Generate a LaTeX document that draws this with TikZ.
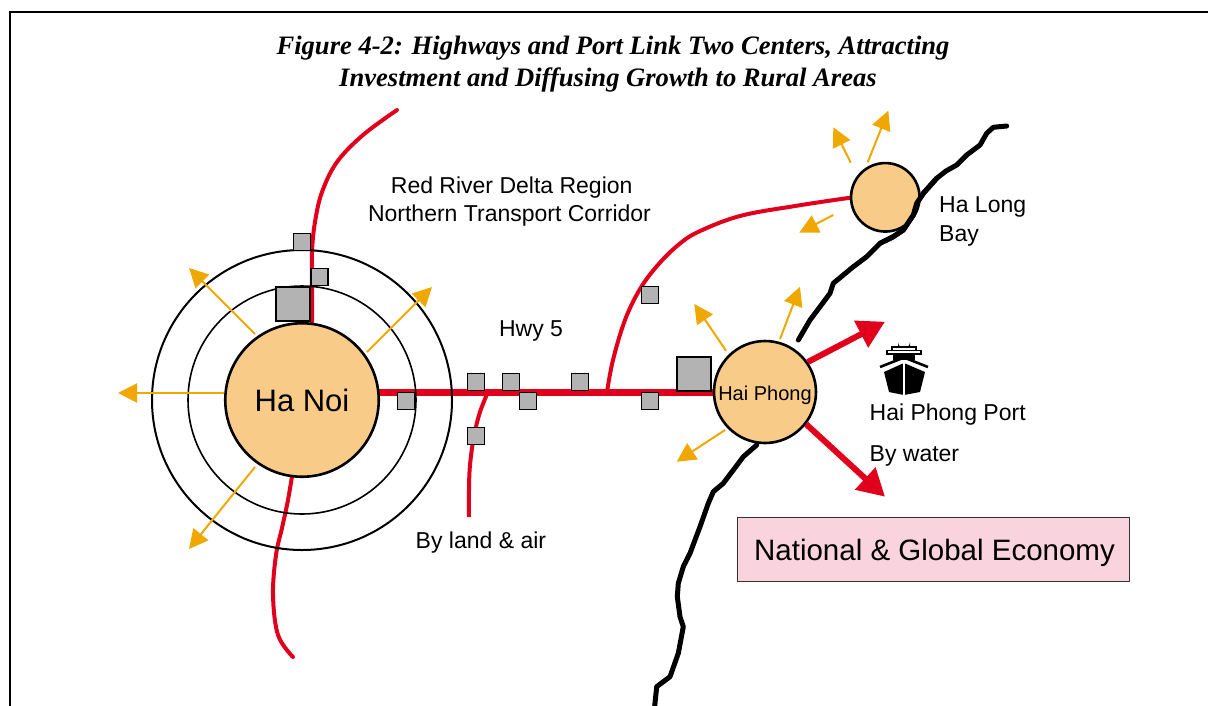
\documentclass[tikz,border=0pt]{standalone}
\usepackage{fontspec}
\setmainfont{Liberation Sans}
\newfontfamily\titlefont{Liberation Serif}
\usetikzlibrary{arrows.meta}
\definecolor{roadred}{HTML}{E0001B}
\definecolor{sunorange}{HTML}{F0A800}
\definecolor{cityfill}{HTML}{F8CC88}
\definecolor{sqgray}{HTML}{B3B3B3}
\definecolor{boxpink}{HTML}{F9D3DE}
\tikzset{
  txt/.style={inner sep=0pt, anchor=base, font=\fontsize{23}{28}\selectfont},
  txtw/.style={inner sep=0pt, anchor=base west, font=\fontsize{23}{28}\selectfont},
  ttl/.style={inner sep=0pt, anchor=base, font=\titlefont\bfseries\itshape\fontsize{26.6}{31}\selectfont},
  sq/.style={draw=black, fill=sqgray, line width=1.4pt, minimum size=16.8pt, inner sep=0pt},
  bigsq/.style={draw=black, fill=sqgray, line width=1.4pt, minimum size=34pt, inner sep=0pt},
  city/.style={circle, draw=black, fill=cityfill, line width=2.6pt, inner sep=0pt},
  road/.style={draw=roadred, line width=4pt},
  hwy/.style={draw=roadred, line width=7pt},
  oarrow/.style={draw=sunorange, line width=2pt, -{Triangle[length=19pt,width=19pt]}},
  rarrow/.style={draw=roadred, line width=6pt, -{Triangle[length=27pt,width=29pt]}},
  coast/.style={draw=black, line width=5pt, line join=round, line cap=round},
}
\begin{document}
\begin{tikzpicture}[x=1pt,y=-1pt]
\useasboundingbox (0,0) rectangle (1208,705);
\clip (0,0) rectangle (1208,705);
% frame
\draw[line width=2pt] (9.5,720) -- (9.5,12) -- (1230,12);
% title
\node[ttl] (t1) at (613,54) {Figure 4-2: Highways and Port Link Two Centers, Attracting};
\node[ttl] (t2) at (608,86) {Investment and Diffusing Growth to Rural Areas};

% named coordinates
\coordinate (hn) at (302,400);
\coordinate (hp) at (765,392);
\coordinate (hl) at (885.3,197.3);

% roads
\draw[road, line cap=round] plot[smooth, tension=0.6] coordinates {(397,110) (363,135) (337,162) (322,192) (315,222) (312,252) (312,290) (312,322)};
\draw[road, line cap=round] plot[smooth, tension=0.6] coordinates {(293,470) (288,500) (282,528) (276,555) (273,595) (278,635) (293,657)};
\draw[road] plot[smooth, tension=0.6] coordinates {(488,392) (480,412) (474,436) (470,465) (469,490) (469,517)};
\draw[road] plot[smooth, tension=0.6] coordinates {(607,392) (613,360) (625,320) (640,289) (657,266) (677,246) (698,232) (740,216) (795,206) (855,197)};
\draw[hwy] (302,392) -- (765,392);

% rings
\draw[line width=2pt] (hn) circle (150pt);
\draw[line width=1.6pt] (hn) circle (114pt);

% orange arrows Ha Noi
\coordinate (hnA1) at (255,334); \coordinate (hnT1) at (189,268);
\coordinate (hnA2) at (367,352); \coordinate (hnT2) at (432,287);
\coordinate (hnA3) at (224,393); \coordinate (hnT3) at (118,393);
\coordinate (hnA4) at (255,467); \coordinate (hnT4) at (189,549);
\draw[oarrow] (hnA1) -- (hnT1);
\draw[oarrow] (hnA2) -- (hnT2);
\draw[oarrow] (hnA3) -- (hnT3);
\draw[oarrow] (hnA4) -- (hnT4);
% orange arrows Ha Long
\coordinate (hlA1) at (850.7,162.7); \coordinate (hlT1) at (833.3,127.3);
\coordinate (hlA2) at (867.7,162.3); \coordinate (hlT2) at (888.3,110.7);
\coordinate (hlA3) at (833.3,215); \coordinate (hlT3) at (799.3,232.7);
\draw[oarrow] (hlA1) -- (hlT1);
\draw[oarrow] (hlA2) -- (hlT2);
\draw[oarrow] (hlA3) -- (hlT3);
% orange arrows Hai Phong
\coordinate (hpA1) at (726,350.7); \coordinate (hpT1) at (694.3,304);
\coordinate (hpA2) at (780,339); \coordinate (hpT2) at (800,286.7);
\coordinate (hpA3) at (725,430); \coordinate (hpT3) at (676.7,461.7);
\draw[oarrow] (hpA1) -- (hpT1);
\draw[oarrow] (hpA2) -- (hpT2);
\draw[oarrow] (hpA3) -- (hpT3);

% coast
\draw[coast] (1006.7,126) -- (993.3,127.3) -- (986.7,133.3) -- (980,145) -- (966.7,155) -- (956.7,165) -- (946,171) -- (936.7,178.3) -- (923.3,193.3) -- (916.7,203.3) -- (913.3,215) -- (903.3,230) -- (893.3,236.7) -- (880,243.3) -- (866.7,256.7) -- (853.3,266.7) -- (833.3,283.3) -- (830,293.3) -- (820,306.7) -- (810,320) -- (798.3,340);
\draw[coast] (756.7,445) -- (743.3,456.7) -- (733.3,470) -- (723.3,483.3) -- (713.3,491.7) -- (708.3,503.3) -- (700,526.7) -- (690,553.3) -- (683.3,566.7) -- (678.3,583.3) -- (677.3,596.7) -- (680,616.7) -- (683.3,626.7) -- (678.3,653.3) -- (670,676.7) -- (656.7,686.7) -- (654.3,710);

% cities
\node[city, minimum size=153.5pt] (hanoi) at (hn) {};
\node[city, minimum size=68.5pt] (halong) at (hl) {};
\node[city, minimum size=102pt] (haiphong) at (hp) {};
% coast over Ha Long edge
\draw[coast] (936.7,178.3) -- (923.3,193.3) -- (916.7,203.3) -- (913.3,215) -- (903.3,230) -- (893.3,236.7) -- (880,243.3);

% squares
\node[sq] (sA) at (302,242) {};
\node[sq] (sB) at (319.5,277) {};
\node[bigsq] (sC) at (293,304) {};
\node[sq] (sD) at (406,401) {};
\node[sq] (sE) at (476,382) {};
\node[sq] (sF) at (511,382) {};
\node[sq] (sG) at (528,401) {};
\node[sq] (sH) at (580,382) {};
\node[sq] (sI) at (650,401) {};
\node[bigsq] (sJ) at (694,374) {};
\node[sq] (sK) at (476,436) {};
\node[sq] (sL) at (650,295) {};

% red arrows
\coordinate (rT1) at (885,321.7);
\coordinate (rT2) at (885,496.7);
\draw[rarrow] (haiphong.35) -- (rT1);
\draw[rarrow] (haiphong.-38) -- (rT2);

% ship
\fill[black] (898,347) -- (898,342) arc[start angle=180, end angle=360, radius=6pt] -- (910,347) -- cycle;
\draw[fill=white, line width=1.2pt] (892,347) rectangle (916,350.5);
\draw[fill=white, line width=1.2pt] (887,350.5) rectangle (921,354);
\fill[black] (893,354) rectangle (915,359.5);
\draw[line width=2.6pt, line join=miter] (880,367) -- (904,357.5) -- (928,367);
\fill[black] (884,372) -- (904,363) -- (925,372) -- (920,392) -- (904,395) -- (889,392) -- cycle;
\draw[white, line width=1.3pt] (904,363) -- (904,396);

% labels
\node[txt] (lRed) at (511.7,193.3) {Red River Delta Region};
\node[txt] (lNorth) at (509.5,221.7) {Northern Transport Corridor};
\node[txt] (lHwy) at (531,336) {Hwy 5};
\node[inner sep=0pt, anchor=base, font=\fontsize{31}{36}\selectfont] (lHanoi) at (302,411) {Ha Noi};
\node[inner sep=0pt, anchor=base, font=\fontsize{20}{24}\selectfont] (lHaiphong) at (765,400) {Hai Phong};
\node[txtw] (lHalong) at (939,212.7) {Ha Long};
\node[txtw] (lBay) at (939,241.7) {Bay};
\node[txtw] (lPort) at (869.5,420) {Hai Phong Port};
\node[txtw] (lWater) at (869.5,461) {By water};
\node[txtw] (lLand) at (415.5,548.5) {By land \& air};

% economy box
\node[draw=black!80, fill=boxpink, line width=1.5pt, minimum width=392pt, minimum height=64pt, inner sep=0pt] (econ) at (933.5,549.5) {};
\node[inner sep=0pt, anchor=base, font=\fontsize{29.5}{34}\selectfont] (lEcon) at (934.5,560) {National \& Global Economy};
\end{tikzpicture}
\end{document}
